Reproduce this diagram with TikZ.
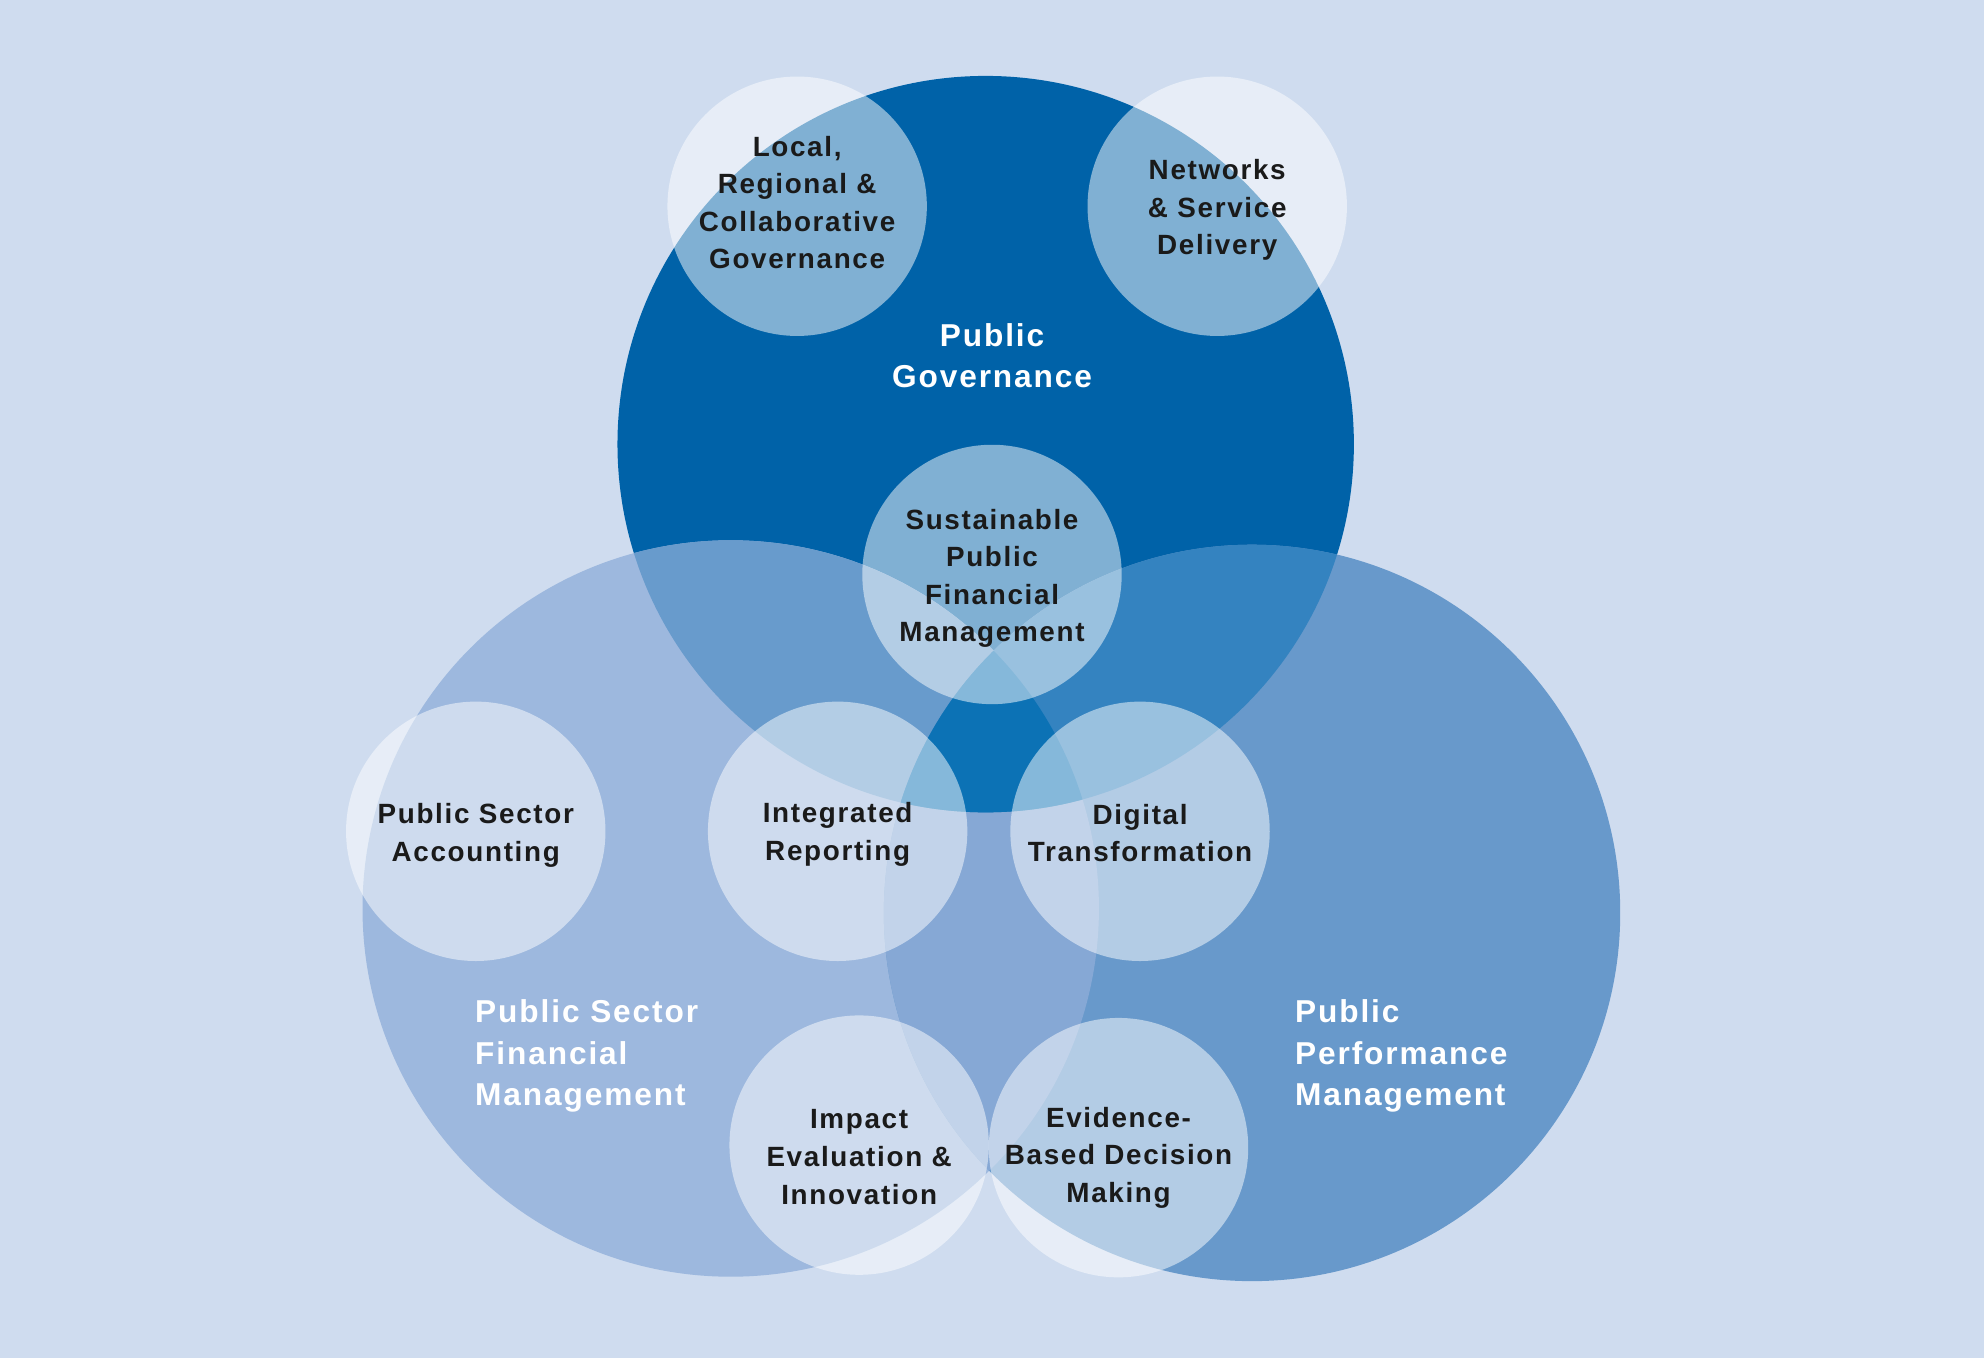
\documentclass[tikz,border=0pt]{standalone}
\usepackage{fontspec}
\newfontfamily\lab[LetterSpace=6]{Liberation Sans}
\definecolor{bg}{HTML}{CFDCEF}
\definecolor{pg}{HTML}{0062A8}
\definecolor{psfm}{HTML}{9DB8DE}
\definecolor{ppm}{HTML}{6899CB}
\definecolor{pgpsfm}{HTML}{689BCC}
\definecolor{pgppm}{HTML}{3483C0}
\definecolor{psfmppm}{HTML}{86A8D5}
\definecolor{triple}{HTML}{0C72B5}
\definecolor{ink}{HTML}{1A1A1A}
\tikzset{
  topic/.style={circle, inner sep=0pt, minimum size=205pt, fill=white, fill opacity=0.5},
  small/.style={align=center, text=ink, font=\lab\bfseries\fontsize{22}{29.7}\selectfont},
  big/.style={text=white, font=\lab\bfseries\fontsize{25}{32.5}\selectfont},
}
\begin{document}
\begin{tikzpicture}[x=1pt,y=-1pt]
\path[use as bounding box, fill=bg] (0,0) rectangle (1568,1073);
\def\PG{(779,351) circle [radius=291pt]}
\def\PSFM{(577.5,718) circle [radius=291pt]}
\def\PPM{(989.5,721.5) circle [radius=291pt]}
\fill[pg] \PG;
\fill[psfm] \PSFM;
\fill[ppm] \PPM;
\begin{scope}
  \clip \PSFM;
  \fill[psfmppm] \PPM;
\end{scope}
\begin{scope}
  \clip \PG;
  \fill[pgpsfm] \PSFM;
  \fill[pgppm] \PPM;
  \clip \PSFM;
  \fill[triple] \PPM;
\end{scope}
% small topic circles
\node[topic] (c1) at (630,163) {};
\node[topic] (c2) at (962,163) {};
\node[topic] (c3) at (784,454) {};
\node[topic] (c4) at (376,657) {};
\node[topic] (c5) at (662,657) {};
\node[topic] (c6) at (901,657) {};
\node[topic] (c7) at (679,905) {};
\node[topic] (c8) at (884,907) {};
% small labels
\node[small] (t1) at (630,160) {Local,\\Regional \&\\Collaborative\\Governance};
\node[small] (t2) at (962,166) {Networks\\\& Service\\Delivery};
\node[small] (t3) at (784,457) {Sustainable\\Public\\Financial\\Management};
\node[small] (t4) at (376,660) {Public Sector\\Accounting};
\node[small] (t5) at (662,659.5) {Integrated\\Reporting};
\node[small] (t6) at (901,658.5) {Digital\\Transformation};
\node[small] (t7) at (679,914.5) {Impact\\Evaluation \&\\Innovation};
\node[small] (t8) at (884,915) {Evidence-\\Based Decision\\Making};
% big labels
\node[big, align=center] (b1) at (784,281) {Public\\Governance};
\node[big, align=left, anchor=west] (b2) at (372,834.5) {Public Sector\\Financial\\Management};
\node[big, align=left, anchor=west] (b3) at (1020,834.5) {Public\\Performance\\Management};
\end{tikzpicture}
\end{document}
